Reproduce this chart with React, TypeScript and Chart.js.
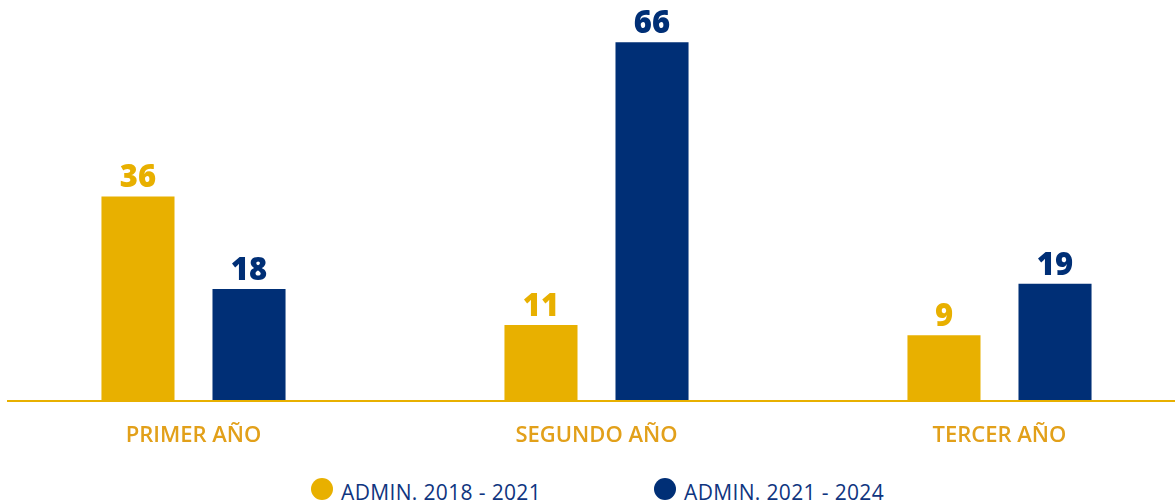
import React, { useEffect, useRef } from "react";
import { Chart, registerables } from "chart.js";

Chart.register(...registerables);

const categories = ["PRIMER AÑO", "SEGUNDO AÑO", "TERCER AÑO"];
const seriesNames = ["ADMIN. 2018 - 2021", "ADMIN. 2021 - 2024"];
const admin2018 = [36, 11, 9];
const admin2021 = [18, 66, 19];
const seriesColors = ["#E8B000", "#002F76"];

const Y_MIN = -3.6;
const Y_MAX = 74.2;
const FONT = "'Open Sans', sans-serif";

const valueLabels = {
  id: "valueLabels",
  afterDatasetsDraw(chart: any) {
    const ctx = chart.ctx;
    ctx.save();
    ctx.font = `800 31px ${FONT}`;
    ctx.textAlign = "center";
    ctx.textBaseline = "alphabetic";
    chart.data.datasets.forEach((ds: any, i: number) => {
      const meta = chart.getDatasetMeta(i);
      ctx.fillStyle = ds.backgroundColor;
      meta.data.forEach((bar: any, j: number) => {
        ctx.fillText(String(ds.data[j]), bar.x, bar.y - 9);
      });
    });
    ctx.restore();
  },
};

const baseline = {
  id: "baseline",
  afterDatasetsDraw(chart: any) {
    const ctx = chart.ctx;
    const y = chart.chartArea.bottom + 1;
    ctx.save();
    ctx.strokeStyle = "#E8B000";
    ctx.lineWidth = 2;
    ctx.beginPath();
    ctx.moveTo(15, y);
    ctx.lineTo(chart.width, y);
    ctx.stroke();
    ctx.restore();
  },
};

export default function App() {
  const ref = useRef<HTMLCanvasElement>(null);

  useEffect(() => {
    if (!ref.current) return;
    const chart = new Chart(ref.current, {
      type: "bar",
      data: {
        labels: categories,
        datasets: [
          {
            label: seriesNames[0],
            data: admin2018,
            backgroundColor: seriesColors[0],
            base: Y_MIN,
            categoryPercentage: 0.551,
            barPercentage: 0.658,
          } as any,
          {
            label: seriesNames[1],
            data: admin2021,
            backgroundColor: seriesColors[1],
            base: Y_MIN,
            categoryPercentage: 0.551,
            barPercentage: 0.658,
          } as any,
        ],
      },
      options: {
        animation: false,
        responsive: false,
        maintainAspectRatio: false,
        layout: { padding: 0 },
        plugins: {
          legend: { display: false },
          tooltip: { enabled: false },
        },
        scales: {
          x: {
            grid: { display: false, drawTicks: false },
            border: { display: false },
            ticks: {
              color: "#E2A01A",
              font: { family: FONT, size: 22, weight: "600" as any },
              padding: 23,
            },
            afterFit(scale: any) {
              scale.height = 60;
            },
          },
          y: {
            display: false,
            min: Y_MIN,
            max: Y_MAX,
          },
        },
      },
      plugins: [valueLabels, baseline],
    });
    return () => chart.destroy();
  }, []);

  const legendItem = (i: number, left: number) => (
    <div
      key={i}
      style={{
        position: "absolute",
        left,
        top: 478,
        display: "flex",
        alignItems: "center",
        height: 22,
      }}
    >
      <span
        style={{
          display: "inline-block",
          width: 22,
          height: 22,
          borderRadius: "50%",
          background: seriesColors[i],
          marginRight: 8,
        }}
      />
      <span
        style={{
          fontFamily: FONT,
          fontSize: 21,
          fontWeight: 500,
          letterSpacing: "0.35px",
          color: "#0F3580",
          lineHeight: "22px",
          whiteSpace: "nowrap",
          position: "relative",
          top: 3,
        }}
      >
        {seriesNames[i]}
      </span>
    </div>
  );

  return (
    <div
      style={{
        position: "absolute",
        left: 0,
        top: 0,
        width: 1175,
        height: 503,
        overflow: "hidden",
        background: "#ffffff",
      }}
    >
      <div style={{ position: "absolute", left: -8, top: 0, width: 1209, height: 460 }}>
        <canvas ref={ref} width={1209} height={460} style={{ width: 1209, height: 460 }} />
      </div>
      {legendItem(0, 311)}
      {legendItem(1, 654)}
    </div>
  );
}
